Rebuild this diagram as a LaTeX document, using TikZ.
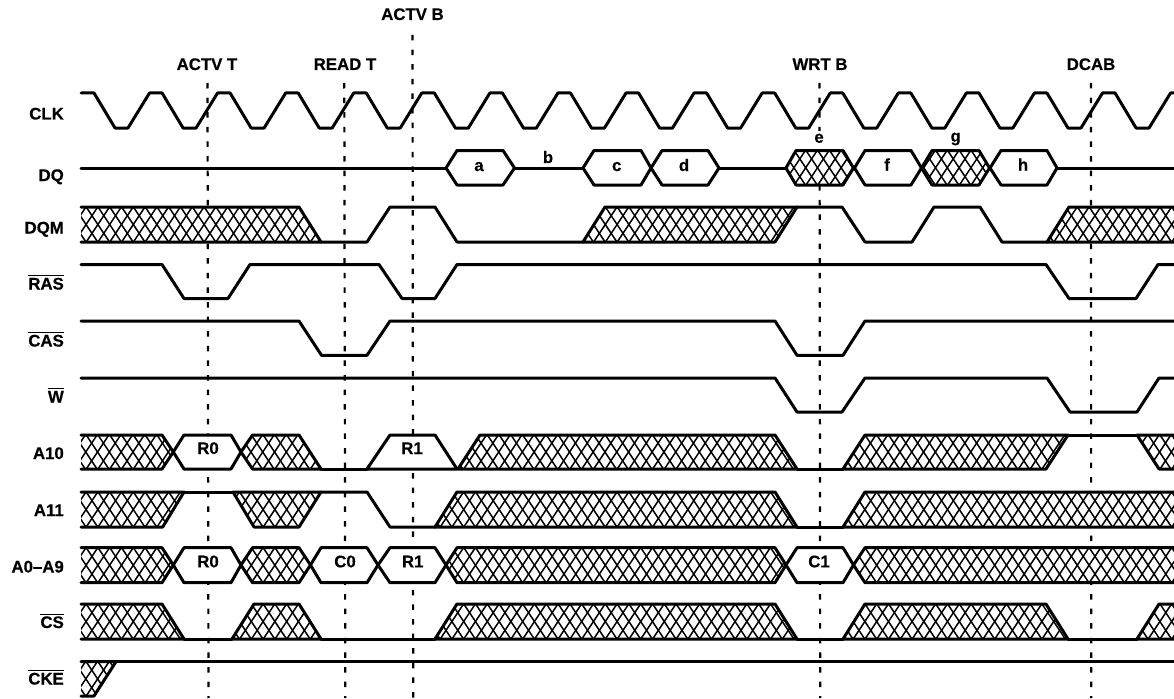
\documentclass[tikz,border=0pt]{standalone}
\usepackage{fontspec}
\setmainfont{Liberation Sans}[BoldFont={Liberation Sans Bold},BoldFeatures={FakeBold=0.4}]
\newcommand{\ovl}[1]{\leavevmode\vbox{\hrule height 1.2pt \kern 1.5pt\hbox{#1}}}
\newcommand{\hatchpoly}[3]{%
  \fill[white] #1 -- cycle;
  \begin{scope}
    \clip #1 -- cycle;
    \pgfmathsetmacro{\hdx}{(#3-#2)/1.5}
    \foreach \k in {0,...,104} {
      \draw[hatchline] ({\k*11.8-20},#2) -- ({\k*11.8-20+\hdx},#3);
      \draw[hatchline] ({\k*11.8-20+\hdx},#2) -- ({\k*11.8-20},#3);
    }
  \end{scope}}
\tikzset{
  wave/.style={line width=3pt,black,line cap=round,line join=round},
  hatchline/.style={line width=1.5pt,black},
  guide/.style={line width=2.2pt,black,dash pattern=on 5.5pt off 9.1pt},
  sig/.style={font=\fontsize{16.8}{18}\selectfont\bfseries,inner sep=0pt,anchor=base east},
  txt/.style={font=\fontsize{16.8}{18}\selectfont\bfseries,inner sep=0pt,anchor=base}
}
\begin{document}
\begin{tikzpicture}[x=1pt,y=-1pt]
\useasboundingbox (0,0) rectangle (1174,698);

% guides
\coordinate (g1a) at (207.5,83); \coordinate (g1b) at (208.5,698);
\coordinate (g2a) at (344.3,83); \coordinate (g2b) at (345.3,698);
\coordinate (g3a) at (412.5,35); \coordinate (g3b) at (413.2,698);
\coordinate (g4a) at (819.5,83); \coordinate (g4b) at (820.2,698);
\coordinate (g5a) at (1091,83);  \coordinate (g5b) at (1091.2,698);
\draw[guide] (g1a) -- (g1b);
\draw[guide] (g2a) -- (g2b);
\draw[guide] (g3a) -- (g3b);
\draw[guide] (g4a) -- (g4b);
\draw[guide] (g5a) -- (g5b);

% top labels
\node[txt] (lactvt) at (207,70) {ACTV T};
\node[txt] (lreadt) at (345,70) {READ T};
\node[txt] (lactvb) at (412.5,20) {ACTV B};
\node[txt] (lwrtb) at (820,70) {WRT B};
\node[txt] (ldcab) at (1091,70) {DCAB};

% signal labels
\node[sig] (lclk) at (64,119.5) {CLK};
\node[sig] (ldq) at (64,181) {DQ};
\node[sig] (ldqm) at (64,233.5) {DQM};
\node[sig] (lras) at (64,289.5) {\ovl{RAS}};
\node[sig] (lcas) at (64,346.5) {\ovl{CAS}};
\node[sig] (lw) at (64,402.5) {\ovl{W}};
\node[sig] (la10) at (64,459) {A10};
\node[sig] (la11) at (64,516) {A11};
\node[sig] (la0) at (64,572.5) {A0–A9};
\node[sig] (lcs) at (64,628) {\ovl{CS}};
\node[sig] (lcke) at (64,684.5) {\ovl{CKE}};

% CLK
\draw[wave] (81,93) -- (94,93)
  \foreach \k in {0,...,15} {
    -- ({94+68.07*\k+21},128) -- ({94+68.07*\k+34},128)
    -- ({94+68.07*\k+55.5},93) -- ({94+68.07*\k+68.07},93)
  };

% DQ
\draw[wave] (81,168) -- (446,168);
\draw[wave,fill=white] (446,168) -- (457,150.5) -- (503,150.5) -- (514.5,168) -- (503,185) -- (457,185) -- cycle;
\draw[wave] (514.5,168) -- (583,168);
\draw[wave,fill=white] (583,168) -- (594,150.5) -- (641,150.5) -- (651,168) -- (641,185) -- (594,185) -- cycle;
\draw[wave,fill=white] (651,168) -- (662,150.5) -- (708,150.5) -- (719,168) -- (708,185) -- (662,185) -- cycle;
\draw[wave] (719,168) -- (786,168);
\hatchpoly{(786,168) -- (796,150.5) -- (843,150.5) -- (853.5,168) -- (843,185) -- (796,185)}{150.5}{185}
\draw[wave] (786,168) -- (796,150.5) -- (843,150.5) -- (853.5,168) -- (843,185) -- (796,185) -- cycle;
\draw[wave,fill=white] (854.5,168) -- (865,150.5) -- (911,150.5) -- (921.5,168) -- (911,185) -- (865,185) -- cycle;
\hatchpoly{(921.5,168) -- (932,150.5) -- (979,150.5) -- (989.5,168) -- (979,185) -- (932,185)}{150.5}{185}
\draw[wave] (921.5,168) -- (932,150.5) -- (979,150.5) -- (989.5,168) -- (979,185) -- (932,185) -- cycle;
\draw[wave,fill=white] (990,168) -- (1001,150.5) -- (1047,150.5) -- (1057,168) -- (1047,185) -- (1001,185) -- cycle;
\draw[wave] (1057,168) -- (1174,168);
\node[txt] (ta) at (479,171) {a};
\node[txt] (tb) at (548,163) {b};
\node[txt] (tc) at (616.7,171) {c};
\node[txt] (td) at (684,171) {d};
\fill[white] (809,131) rectangle (830,147.5);
\node[txt] (te) at (819,142.7) {e};
\node[txt] (tf) at (887,170.5) {f};
\node[txt] (tg) at (955.7,141.7) {g};
\node[txt] (th) at (1023,170.5) {h};

% DQM
\hatchpoly{(81,207) -- (299,207) -- (321,242) -- (81,242)}{207}{242}
\draw[wave] (81,207) -- (299,207) -- (321,242) -- (81,242);
\draw[wave] (321,242) -- (367,242) -- (390,207) -- (435,207) -- (457,242) -- (583,242);
\hatchpoly{(583,242) -- (605,207) -- (797,207) -- (775,242)}{207}{242}
\draw[wave] (583,242) -- (605,207) -- (797,207) -- (775,242) -- cycle;
\draw[wave] (797,207) -- (842,207) -- (865,242) -- (912,242) -- (934,207) -- (980,207) -- (1002,242) -- (1047,242);
\hatchpoly{(1047,242) -- (1069,207) -- (1176,207) -- (1176,242)}{207}{242}
\draw[wave] (1176,207) -- (1069,207) -- (1047,242) -- (1176,242);

% RAS
\draw[wave] (81,264.5) -- (162,264.5) -- (184,298.5) -- (228,298.5) -- (250,264.5) -- (379,264.5) -- (402,298.5) -- (435,298.5) -- (457,264.5) -- (1046,264.5) -- (1069,298.5) -- (1136,298.5) -- (1158,264.5) -- (1176,264.5);

% CAS
\draw[wave] (81,321) -- (299,321) -- (321.5,355.3) -- (367,355.3) -- (390,321) -- (775,321) -- (797,355.3) -- (843,355.3) -- (865,321) -- (1176,321);

% W
\draw[wave] (81,378) -- (775,378) -- (797,412) -- (842,412) -- (865,378) -- (1047,378) -- (1070,412) -- (1137,412) -- (1159,378) -- (1176,378);

% A10
\hatchpoly{(81,435) -- (162,435) -- (173.3,452) -- (162,469) -- (81,469)}{435}{469}
\draw[wave] (81,435) -- (162,435) -- (173.3,452) -- (162,469) -- (81,469);
\draw[wave,fill=white] (173.3,452) -- (184,435) -- (231,435) -- (241,452) -- (231,469) -- (184,469) -- cycle;
\hatchpoly{(241,452) -- (252.5,435) -- (299,435) -- (321,469) -- (252.5,469)}{435}{469}
\draw[wave] (241,452) -- (252.5,435) -- (299,435) -- (321,469) -- (252.5,469) -- cycle;
\draw[wave] (321,469) -- (367,469);
\draw[wave,fill=white] (367,469) -- (390,435) -- (435,435) -- (457,469) -- cycle;
\hatchpoly{(458,469) -- (480,435) -- (775,435) -- (797,469)}{435}{469}
\draw[wave] (458,469) -- (480,435) -- (775,435) -- (797,469) -- cycle;
\draw[wave] (797,469) -- (843,469);
\hatchpoly{(843,469) -- (865,435) -- (1068,435) -- (1046,469)}{435}{469}
\draw[wave] (843,469) -- (865,435) -- (1068,435) -- (1046,469) -- cycle;
\draw[wave] (1068,435) -- (1137,435);
\hatchpoly{(1137,435) -- (1159,469) -- (1176,469) -- (1176,435)}{435}{469}
\draw[wave] (1176,435) -- (1137,435) -- (1159,469) -- (1176,469);
\node[txt] (r0a) at (208,454) {R0};
\node[txt] (r1a) at (412,454) {R1};

% A11
\hatchpoly{(81,492) -- (184,492) -- (162.7,527) -- (81,527)}{492}{527}
\draw[wave] (81,492) -- (184,492) -- (162.7,527) -- (81,527);
\draw[wave] (184,492) -- (233,492);
\hatchpoly{(233,492) -- (321,492) -- (299,527) -- (254,527)}{492}{527}
\draw[wave] (233,492) -- (321,492) -- (299,527) -- (254,527) -- cycle;
\draw[wave] (321,492) -- (367,492) -- (390,527) -- (435,527);
\hatchpoly{(435,527) -- (457,492) -- (775,492) -- (797,527)}{492}{527}
\draw[wave] (435,527) -- (457,492) -- (775,492) -- (797,527) -- cycle;
\draw[wave] (797,527) -- (843,527);
\hatchpoly{(843,527) -- (865,492) -- (1176,492) -- (1176,527)}{492}{527}
\draw[wave] (1176,492) -- (865,492) -- (843,527) -- (1176,527);

% A0-A9
\hatchpoly{(81,547.7) -- (162,547.7) -- (173.3,565) -- (162,582.7) -- (81,582.7)}{547.7}{582.7}
\draw[wave] (81,547.7) -- (162,547.7) -- (173.3,565) -- (162,582.7) -- (81,582.7);
\draw[wave,fill=white] (173.3,565) -- (184,547.7) -- (231,547.7) -- (241,565) -- (231,582.7) -- (184,582.7) -- cycle;
\hatchpoly{(241,565) -- (252.5,547.7) -- (299,547.7) -- (310.5,565) -- (299,582.7) -- (252.5,582.7)}{547.7}{582.7}
\draw[wave] (241,565) -- (252.5,547.7) -- (299,547.7) -- (310.5,565) -- (299,582.7) -- (252.5,582.7) -- cycle;
\draw[wave,fill=white] (310.5,565) -- (321,547.7) -- (367,547.7) -- (378,565) -- (367,582.7) -- (321,582.7) -- cycle;
\draw[wave,fill=white] (378,565) -- (390,547.7) -- (435,547.7) -- (446,565) -- (435,582.7) -- (390,582.7) -- cycle;
\hatchpoly{(446,565) -- (457,547.7) -- (775,547.7) -- (786,565) -- (775,582.7) -- (457,582.7)}{547.7}{582.7}
\draw[wave] (446,565) -- (457,547.7) -- (775,547.7) -- (786,565) -- (775,582.7) -- (457,582.7) -- cycle;
\draw[wave,fill=white] (786,565) -- (797,547.7) -- (843,547.7) -- (853.5,565) -- (843,582.7) -- (797,582.7) -- cycle;
\hatchpoly{(853.5,565) -- (865,547.7) -- (1176,547.7) -- (1176,582.7) -- (865,582.7)}{547.7}{582.7}
\draw[wave] (1176,547.7) -- (865,547.7) -- (853.5,565) -- (865,582.7) -- (1176,582.7);
\node[txt] (r0b) at (208,567.3) {R0};
\node[txt] (c0) at (345,567.3) {C0};
\node[txt] (r1b) at (412.7,567.3) {R1};
\node[txt] (c1) at (819,567.3) {C1};

% CS
\hatchpoly{(81,604) -- (162,604) -- (184,639) -- (81,639)}{604}{639}
\draw[wave] (81,604) -- (162,604) -- (184,639) -- (81,639);
\draw[wave] (184,639) -- (232,639);
\hatchpoly{(232,639) -- (254,604) -- (299,604) -- (321,639)}{604}{639}
\draw[wave] (232,639) -- (254,604) -- (299,604) -- (321,639) -- cycle;
\draw[wave] (321,639) -- (435,639);
\hatchpoly{(435,639) -- (457,604) -- (775,604) -- (797,639)}{604}{639}
\draw[wave] (435,639) -- (457,604) -- (775,604) -- (797,639) -- cycle;
\draw[wave] (797,639) -- (843,639);
\hatchpoly{(843,639) -- (865,604) -- (1046,604) -- (1068,639)}{604}{639}
\draw[wave] (843,639) -- (865,604) -- (1046,604) -- (1068,639) -- cycle;
\draw[wave] (1068,639) -- (1137,639);
\hatchpoly{(1137,639) -- (1159,604) -- (1176,604) -- (1176,639)}{604}{639}
\draw[wave] (1176,604) -- (1159,604) -- (1137,639) -- (1176,639);

% CKE
\hatchpoly{(81,661.7) -- (116,661.7) -- (94,696) -- (81,696)}{661.7}{696}
\draw[wave] (81,661.7) -- (116,661.7) -- (94,696) -- (81,696);
\draw[wave] (116,661.7) -- (1176,661.7);
\end{tikzpicture}
\end{document}
